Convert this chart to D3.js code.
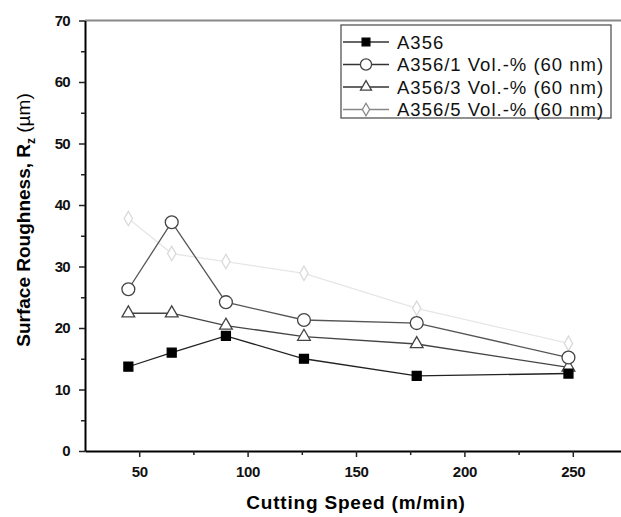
<!DOCTYPE html>
<html>
<head>
<meta charset="utf-8">
<script src="https://cdn.jsdelivr.net/npm/d3@7"></script>
<style>
  body { margin: 0; background: #fff; }
  svg { display: block; font-family: "Liberation Sans", Arial, sans-serif; }
</style>
</head>
<body>
<svg id="chart" width="621" height="517"></svg>
<script>
// data
const speeds = [45, 65, 90, 126, 178, 248];
const a356 = [13.7, 16.0, 18.7, 15.0, 12.2, 12.6];
const vol1 = [26.3, 37.2, 24.2, 21.3, 20.8, 15.2];
const vol3 = [22.4, 22.4, 20.4, 18.6, 17.4, 13.6];
const vol5 = [37.8, 32.1, 30.8, 28.9, 23.2, 17.5];
const seriesNames = ["A356", "A356/1 Vol.-% (60 nm)", "A356/3 Vol.-% (60 nm)", "A356/5 Vol.-% (60 nm)"];
const xTicks = [50, 100, 150, 200, 250];
const yTicks = [0, 10, 20, 30, 40, 50, 60, 70];

const series = [
    { name: seriesNames[0], values: a356, symbol: d3.symbolSquare, size: 80, fill: "#000", stroke: "#000", line: "#222" },
    { name: seriesNames[1], values: vol1, symbol: d3.symbolCircle, size: 130, fill: "#fff", stroke: "#444", line: "#555" },
    { name: seriesNames[2], values: vol3, symbol: d3.symbolTriangle, size: 70, fill: "#fff", stroke: "#444", line: "#444" },
    { name: seriesNames[3], values: vol5, symbol: d3.symbolDiamond, size: 60, fill: "#fff", stroke: "#dadada", line: "#e6e6e6" }
];

const svg = d3.select("#chart");
const plotLeft = 85, plotRight = 627, plotTop = 20.5, plotBottom = 451;

const x = d3.scaleLinear().domain([25, 275]).range([plotLeft, plotRight]);
const y = d3.scaleLinear().domain([0, 70]).range([plotBottom, plotTop]);

// frame top line (gray)
svg.append("line")
    .attr("x1", plotLeft).attr("x2", plotRight)
    .attr("y1", plotTop).attr("y2", plotTop)
    .attr("stroke", "#888").attr("stroke-width", 2);
svg.append("line")
    .attr("x1", plotRight).attr("x2", plotRight)
    .attr("y1", plotTop).attr("y2", plotBottom)
    .attr("stroke", "#888").attr("stroke-width", 2);

// minor ticks
const xMinor = d3.range(75, 276, 50);
const yMinor = d3.range(5, 70, 10);

const xAxis = svg.append("g")
    .attr("transform", `translate(0,${plotBottom})`)
    .call(d3.axisBottom(x).tickValues(xTicks).tickSize(6).tickPadding(9).tickSizeOuter(0));
svg.append("g")
    .attr("transform", `translate(0,${plotBottom})`)
    .call(d3.axisBottom(x).tickValues(xMinor).tickSize(4).tickFormat("").tickSizeOuter(0))
    .select(".domain").remove();

const yAxis = svg.append("g")
    .attr("transform", `translate(${plotLeft},0)`)
    .call(d3.axisLeft(y).tickValues(yTicks).tickSize(6).tickPadding(9).tickSizeOuter(0));
svg.append("g")
    .attr("transform", `translate(${plotLeft},0)`)
    .call(d3.axisLeft(y).tickValues(yMinor).tickSize(4).tickFormat("").tickSizeOuter(0))
    .select(".domain").remove();

svg.selectAll(".domain").attr("stroke", "#000").attr("stroke-width", 2);
svg.selectAll(".tick line").attr("stroke", "#222").attr("stroke-width", 1.5);
svg.selectAll(".tick text")
    .attr("font-size", 15)
    .attr("font-weight", "bold")
    .attr("fill", "#111");
xAxis.selectAll(".tick text").attr("letter-spacing", -0.3);
yAxis.selectAll(".tick text").attr("letter-spacing", -0.7);

// axis titles
svg.append("text")
    .attr("x", 356).attr("y", 509)
    .attr("text-anchor", "middle")
    .attr("font-size", 19).attr("font-weight", "bold")
    .attr("letter-spacing", 0.8)
    .text("Cutting Speed (m/min)");

const yTitle = svg.append("text")
    .attr("transform", "translate(30,220) rotate(-90)")
    .attr("text-anchor", "middle")
    .attr("font-size", 19).attr("font-weight", "bold");
yTitle.append("tspan").text("Surface Roughness, R");
yTitle.append("tspan").attr("font-size", 12).attr("dy", 5).text("z");
yTitle.append("tspan").attr("dy", -5).attr("font-weight", "normal").text(" (\u00b5m)");

// lines and markers
const line = d3.line().x(d => x(d[0])).y(d => y(d[1]));

// draw the faint series first so the others sit on top
[3, 2, 1, 0].forEach(i => {
    const s = series[i];
    const pts = speeds.map((sp, j) => [sp, s.values[j]]);
    svg.append("path")
        .datum(pts)
        .attr("d", line)
        .attr("fill", "none")
        .attr("stroke", s.line)
        .attr("stroke-width", 1.3);
    svg.append("g").selectAll("path")
        .data(pts)
        .enter()
        .append("path")
        .attr("d", d3.symbol().type(s.symbol).size(s.size))
        .attr("transform", d => `translate(${x(d[0])},${y(d[1])})`)
        .attr("fill", s.fill)
        .attr("stroke", s.stroke)
        .attr("stroke-width", 1.3);
});

// legend
const legend = svg.append("g");
legend.append("rect")
    .attr("x", 341).attr("y", 25)
    .attr("width", 270).attr("height", 93)
    .attr("fill", "#fff")
    .attr("stroke", "#555").attr("stroke-width", 1.3);

const rows = legend.selectAll("g.row")
    .data(series)
    .enter()
    .append("g")
    .attr("class", "row")
    .attr("transform", (d, i) => `translate(0,${42 + i * 22.5})`);

rows.append("line")
    .attr("x1", 343).attr("x2", 389)
    .attr("stroke", (d, i) => i === 3 ? "#888" : "#333")
    .attr("stroke-width", 1.3);
rows.append("path")
    .attr("d", d => d3.symbol().type(d.symbol).size(d.size * 0.75)())
    .attr("transform", "translate(366,0)")
    .attr("fill", d => d.fill)
    .attr("stroke", (d, i) => i === 3 ? "#888" : d.stroke)
    .attr("stroke-width", 1.3);
rows.append("text")
    .attr("x", 397).attr("y", 6.5)
    .attr("font-size", 18.5)
    .attr("letter-spacing", 1)
    .attr("fill", "#111")
    .text(d => d.name);
</script>
</body>
</html>
